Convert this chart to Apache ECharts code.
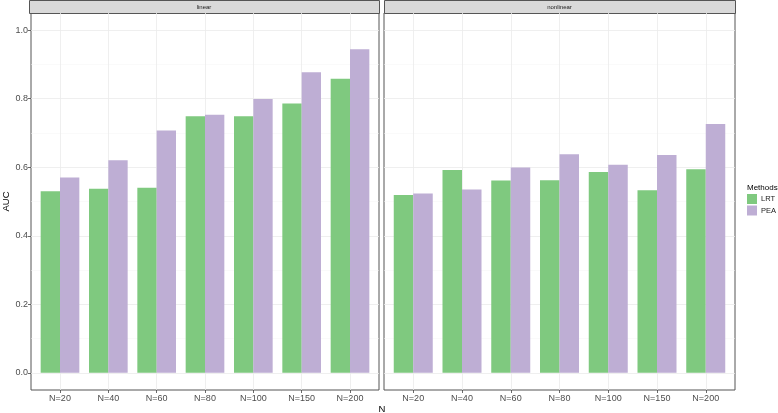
<!DOCTYPE html>
<html>
<head>
<meta charset="utf-8">
<script src="https://cdn.jsdelivr.net/npm/echarts@6/dist/echarts.min.js"></script>
<style>
  html, body { margin: 0; padding: 0; background: #fff; }
  #chart { width: 778px; height: 413px; }
</style>
</head>
<body>
<div id="chart"></div>
<script>
const categories = ["N=20", "N=40", "N=60", "N=80", "N=100", "N=150", "N=200"];
const facets = ["linear", "nonlinear"];
const lrtLinear = [0.530, 0.537, 0.540, 0.749, 0.749, 0.786, 0.858];
const peaLinear = [0.570, 0.620, 0.707, 0.753, 0.799, 0.877, 0.944];
const lrtNonlinear = [0.519, 0.592, 0.561, 0.562, 0.586, 0.533, 0.594];
const peaNonlinear = [0.523, 0.535, 0.599, 0.638, 0.607, 0.636, 0.726];
const yMajor = [0, 0.2, 0.4, 0.6, 0.8, 1.0];
const yMinor = [0.1, 0.3, 0.5, 0.7, 0.9];

const FONT = "Liberation Sans, Arial, sans-serif";
const GREEN = "#7FC97F";
const PURPLE = "#BEAED4";

// panel geometry (px)
const panels = [
  { left: 29, width: 350 },
  { left: 384, width: 351 }
];
const TOP = 13, HEIGHT = 377, STRIP = 13;

const chart = echarts.init(document.getElementById("chart"), null, { renderer: "canvas" });

const xIdx = categories.map((_, i) => i);
const pairs = (vals) => vals.map((v, i) => [i, v]);

const grid = panels.map((p) => ({
  left: p.left, top: TOP, width: p.width, height: HEIGHT,
  show: true, backgroundColor: "#fff", borderColor: "#555", borderWidth: 1
}));

const xAxis = panels.map((p, k) => ({
  type: "value", gridIndex: k, min: -0.6, max: 6.6, position: "bottom",
  axisLine: { show: false, onZero: false },
  axisTick: { show: true, length: 3, customValues: xIdx, lineStyle: { color: "#444", width: 0.8 } },
  axisLabel: {
    customValues: xIdx, margin: 4, color: "#4d4d4d", fontSize: 9, fontFamily: FONT,
    formatter: (v) => categories[Math.round(v)]
  },
  splitLine: { show: true, lineStyle: { color: "#ebebeb", width: 0.8 } }
}));

const yAxis = [];
panels.forEach((p, k) => {
  yAxis.push({
    type: "value", gridIndex: k, min: -0.05, max: 1.05, position: "left",
    name: k === 0 ? "AUC" : "", nameLocation: "middle", nameGap: 20,
    nameTextStyle: { color: "#000", fontSize: 9.5, fontFamily: FONT },
    axisLine: { show: false, onZero: false },
    axisTick: { show: k === 0, length: 3, customValues: yMajor, lineStyle: { color: "#444", width: 0.8 } },
    axisLabel: {
      show: k === 0, customValues: yMajor, margin: 3, color: "#4d4d4d", fontSize: 9, fontFamily: FONT,
      formatter: (v) => v.toFixed(1)
    },
    splitLine: { show: true, lineStyle: { color: "#ebebeb", width: 0.8 } }
  });
  yAxis.push({
    type: "value", gridIndex: k, min: -0.05, max: 1.05, position: "left",
    axisLine: { show: false, onZero: false },
    axisTick: { show: false, customValues: yMinor },
    axisLabel: { show: false, customValues: yMinor },
    splitLine: { show: true, lineStyle: { color: "#f5f5f5", width: 0.5 } }
  });
});

const seriesData = [
  [lrtLinear, peaLinear],
  [lrtNonlinear, peaNonlinear]
];
const series = [];
seriesData.forEach((pair, k) => {
  series.push({
    name: "LRT", type: "bar", xAxisIndex: k, yAxisIndex: k * 2,
    barWidth: "40%", barGap: "0%", itemStyle: { color: GREEN },
    data: pairs(pair[0])
  });
  series.push({
    name: "PEA", type: "bar", xAxisIndex: k, yAxisIndex: k * 2,
    barWidth: "40%", barGap: "0%", itemStyle: { color: PURPLE },
    data: pairs(pair[1])
  });
});

const graphic = [];
panels.forEach((p, k) => {
  graphic.push({
    type: "rect", left: p.left, top: 0,
    shape: { width: p.width, height: STRIP },
    style: { fill: "#d9d9d9", stroke: "#555", lineWidth: 1 }
  });
  graphic.push({
    type: "text", x: p.left + p.width / 2, y: STRIP / 2 + 0.5,
    style: { text: facets[k], fill: "#1a1a1a", font: "6px " + FONT, align: "center", verticalAlign: "middle" }
  });
});
graphic.push({
  type: "text", x: 382, y: 409,
  style: { text: "N", fill: "#000", font: "9.5px " + FONT, align: "center", verticalAlign: "middle" }
});
graphic.push({
  type: "text", x: 747, y: 188,
  style: { text: "Methods", fill: "#000", font: "8px " + FONT, align: "left", verticalAlign: "middle" }
});

chart.setOption({
  backgroundColor: "#fff",
  animation: false,
  grid, xAxis, yAxis, series, graphic,
  legend: {
    data: ["LRT", "PEA"], orient: "vertical", left: 747, top: 194,
    icon: "rect", itemWidth: 10, itemHeight: 10, itemGap: 1.5, padding: 0,
    textStyle: { color: "#1a1a1a", fontSize: 7.5, fontFamily: FONT, padding: [0, 0, 0, -1] }
  }
});
</script>
</body>
</html>
